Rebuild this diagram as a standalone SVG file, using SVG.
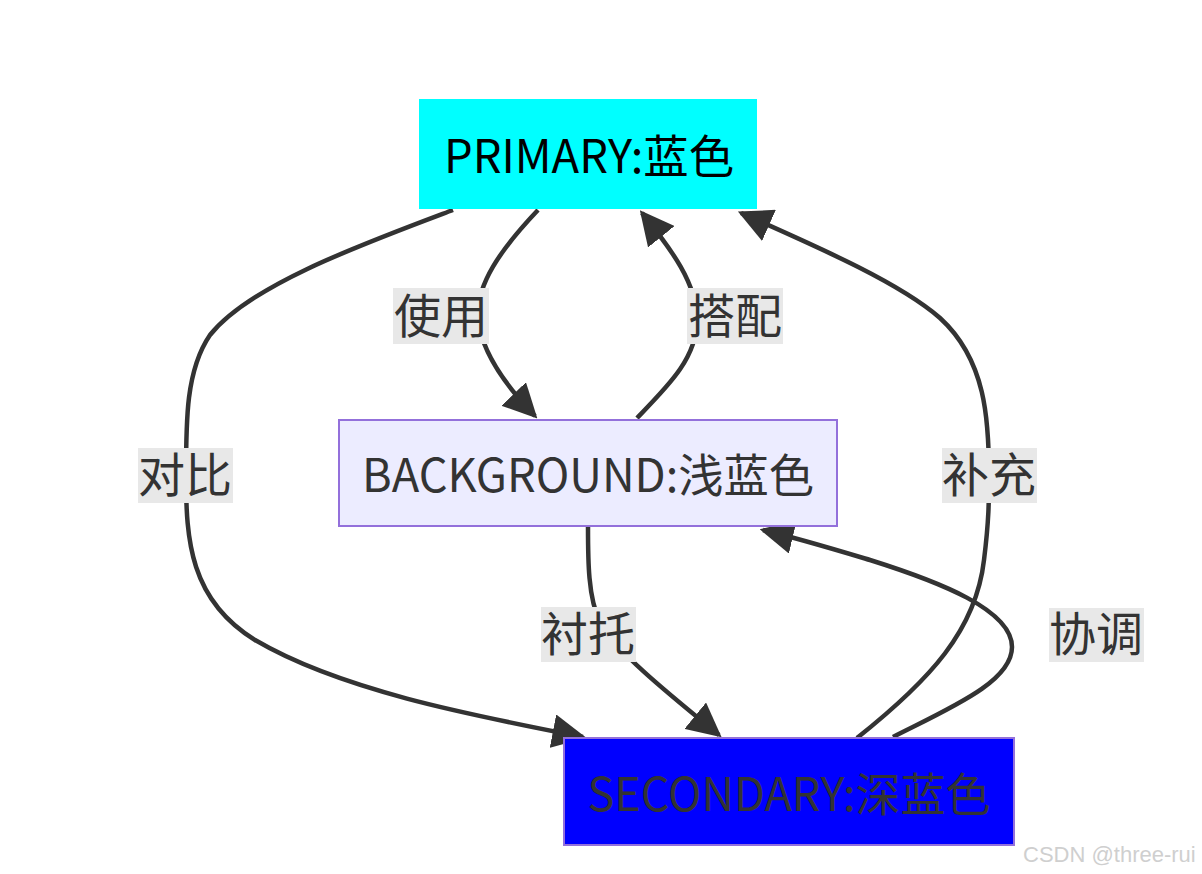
<svg xmlns="http://www.w3.org/2000/svg" width="1202" height="874" viewBox="0 0 1202 874">
<style>
.edge{fill:none;stroke:#333333;stroke-width:4.5;marker-end:url(#arrow)}
.lbl-bg{fill:#e8e8e8}
.lbl{font-family:"Noto Sans CJK SC","Noto Sans",sans-serif;font-size:47px;fill:#333333;text-anchor:middle}
.ntext{font-family:"Noto Sans CJK SC","Noto Sans",sans-serif;font-size:46px;text-anchor:middle}
.wm{font-family:"Liberation Sans",Arial,sans-serif;font-size:22px;fill:#cfcfcf}
</style>
<defs>
<marker id="arrow" viewBox="0 0 10 10" refX="9" refY="5" markerWidth="34" markerHeight="34" markerUnits="userSpaceOnUse" orient="auto">
<path d="M0,0 L10,5 L0,10 z" fill="#333333"/>
</marker>
</defs>
<rect width="1202" height="874" fill="#ffffff"/>
<g id="connectors">
<path class="edge" d="M538,210 C500,250 476,285 478,318 C481,352 506,386 535,416"/>
<path class="edge" d="M637,418 C668,386 697,358 697,320 C697,284 672,250 642,213"/>
<path class="edge" d="M453,210 C360,245 250,285 210,335 C186,370 186,420 186,476 C186,540 190,600 255,640 C340,690 470,715 583,737"/>
<path class="edge" d="M857,738 C930,680 976,630 984,560 C989,520 989,500 989,476 C989,420 986,360 940,318 C900,283 820,248 741,213"/>
<path class="edge" d="M588,527 C588,560 588,598 600,622 C616,652 670,695 719,735"/>
<path class="edge" d="M893,737 C950,708 1012,682 1012,647 C1012,610 940,582 870,560 C830,548 797,538 763,530"/>
</g>
<g id="edge-labels">
<g id="label-shiyong"><rect class="lbl-bg" x="393" y="288" width="96" height="56"/><text class="lbl" x="441" y="333">使用</text></g>
<g id="label-dapei"><rect class="lbl-bg" x="687" y="288" width="96" height="56"/><text class="lbl" x="735" y="333">搭配</text></g>
<g id="label-duibi"><rect class="lbl-bg" x="138" y="448" width="95" height="55"/><text class="lbl" x="185" y="492">对比</text></g>
<g id="label-chentuo"><rect class="lbl-bg" x="541" y="607" width="95" height="55"/><text class="lbl" x="588" y="651">衬托</text></g>
<g id="label-buchong"><rect class="lbl-bg" x="942" y="448" width="95" height="55"/><text class="lbl" x="989" y="492">补充</text></g>
<g id="label-xietiao"><rect class="lbl-bg" x="1049" y="608" width="95" height="54"/><text class="lbl" x="1096" y="651">协调</text></g>
</g>
<g id="node-primary">
<rect x="419" y="99" width="338" height="110" fill="#00ffff"/>
<text class="ntext" x="589" y="173" fill="#000000" textLength="290" lengthAdjust="spacingAndGlyphs">PRIMARY:蓝色</text>
</g>
<g id="node-background">
<rect x="339" y="420" width="498" height="106" fill="#ececff" stroke="#9370db" stroke-width="2"/>
<text class="ntext" x="588" y="492" fill="#333333" textLength="452" lengthAdjust="spacingAndGlyphs">BACKGROUND:浅蓝色</text>
</g>
<g id="node-secondary">
<rect x="564" y="738" width="450" height="107" fill="#0000ff" stroke="#9370db" stroke-width="2"/>
<text class="ntext" x="789" y="811" fill="#333333" textLength="403" lengthAdjust="spacingAndGlyphs">SECONDARY:深蓝色</text>
</g>
<text class="wm" x="1023" y="862">CSDN @three-rui</text>
</svg>
